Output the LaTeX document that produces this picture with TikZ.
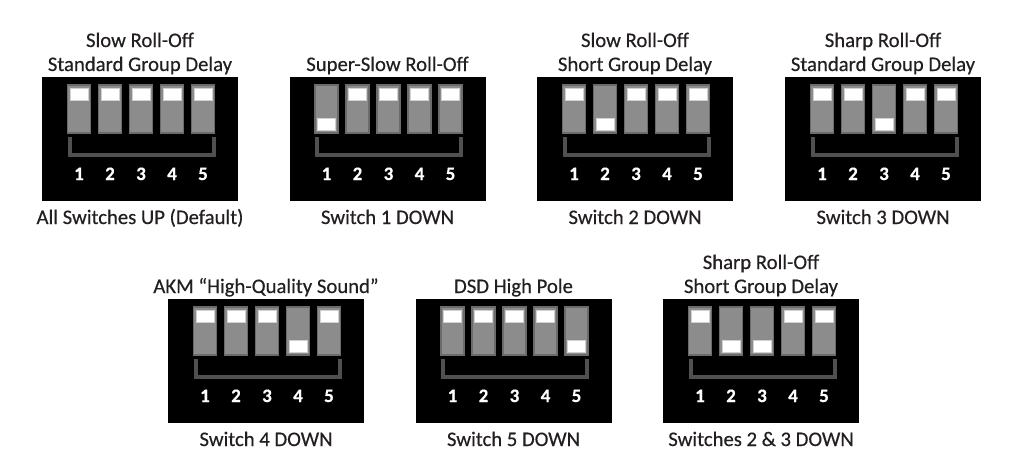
\documentclass[tikz,border=0pt]{standalone}
\usepackage{fontspec}
\setmainfont{Carlito}[FakeBold=0.4]
\newfontfamily\numfont{Carlito}[FakeBold=0.6]
\definecolor{txt}{HTML}{231F20}
\definecolor{swfill}{HTML}{8C8C8C}
\definecolor{swedge}{HTML}{6B6B6B}
\definecolor{brk}{HTML}{505050}
\definecolor{nubedge}{HTML}{D0D0D0}
\tikzset{
  panelbox/.style={fill=black, draw=none, minimum width=196pt, minimum height=124pt, inner sep=0pt, outer sep=0pt},
  switchbody/.style={fill=swfill, draw=swedge, line width=1.3pt, minimum width=23pt, minimum height=48pt, inner sep=0pt},
  nub/.style={fill=white, draw=nubedge, line width=0.7pt, minimum width=18pt, minimum height=12pt, inner sep=0pt},
  bracketline/.style={draw=brk, line width=4pt},
  numlabel/.style={text=white, font=\fontsize{19}{19}\selectfont\bfseries, inner sep=0pt, anchor=base},
  titletext/.style={text=txt, font=\fontsize{20.7}{24}\selectfont, inner sep=0pt, anchor=base},
}
% #1 name, #2 x0, #3 y0, #4 states (0 up / 1 down), #5 title line 1, #6 title line 2, #7 caption
\newcommand\dippanel[7]{%
  \node[panelbox] (#1) at ({#2+98},{#3+62}) {};
  \foreach \d [count=\i] in {#4} {
    \node[switchbody] (#1s\i) at ({#2+37+(\i-1)*31},{#3+32}) {};
    \node[nub] (#1n\i) at ({#2+37+(\i-1)*31},{#3+17+\d*30}) {};
    \node[numlabel] (#1k\i) at ({#2+37+(\i-1)*31},{#3+103}) {\i};
  }
  \draw[bracketline] ({#2+27.5},{#3+60}) -- ({#2+27.5},{#3+77.5}) -- ({#2+171.5},{#3+77.5}) -- ({#2+171.5},{#3+60});
  \if\relax\detokenize{#5}\relax\else
    \node[titletext] (#1ta) at ({#2+98},{#3-30}) {#5};
  \fi
  \node[titletext] (#1tb) at ({#2+98},{#3-6}) {#6};
  \node[titletext] (#1c) at ({#2+98},{#3+147}) {#7};
}
\begin{document}
\begin{tikzpicture}[x=1pt,y=-1pt]
  \useasboundingbox (0,0) rectangle (1024,469);
  \dippanel{pa}{42}{77}{0,0,0,0,0}{Slow Roll-Off}{Standard Group Delay}{All Switches UP (Default)}
  \dippanel{pb}{289.5}{77}{1,0,0,0,0}{}{Super-Slow Roll-Off}{Switch 1 DOWN}
  \dippanel{pc}{537}{77}{0,1,0,0,0}{Slow Roll-Off}{Short Group Delay}{Switch 2 DOWN}
  \dippanel{pd}{785}{77}{0,0,1,0,0}{Sharp Roll-Off}{Standard Group Delay}{Switch 3 DOWN}
  \dippanel{pe}{168}{299}{0,0,0,1,0}{}{AKM “High-Quality Sound”}{Switch 4 DOWN}
  \dippanel{pf}{415.5}{299}{0,0,0,0,1}{}{DSD High Pole}{Switch 5 DOWN}
  \dippanel{pg}{663}{299}{0,1,1,0,0}{Sharp Roll-Off}{Short Group Delay}{Switches 2 \& 3 DOWN}
\end{tikzpicture}
\end{document}
